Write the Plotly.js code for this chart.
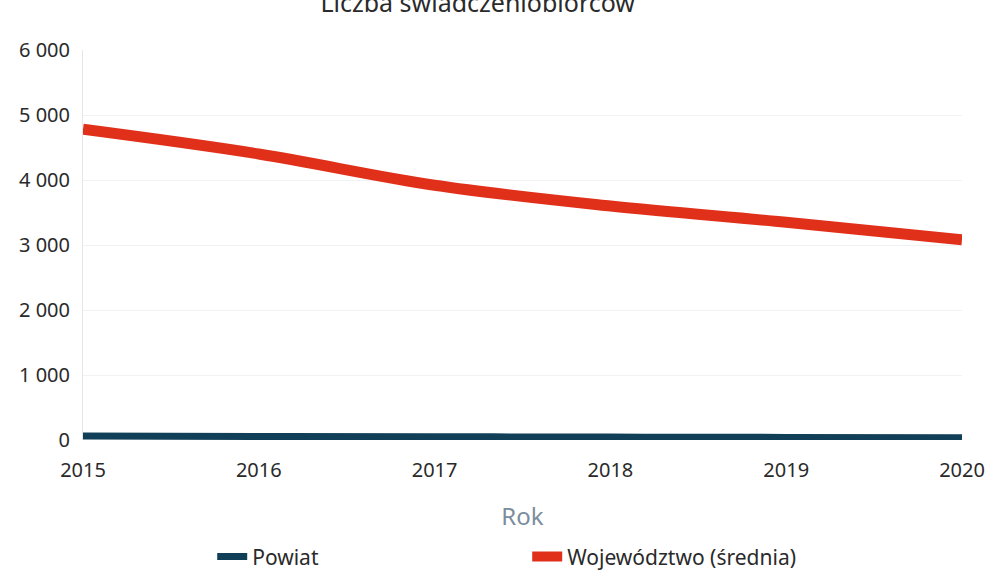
<!DOCTYPE html>
<html>
<head>
<meta charset="utf-8">
<script src="https://cdn.plot.ly/plotly-3.0.1.min.js"></script>
<style>html,body{margin:0;padding:0;background:#fff;}#chart{width:987px;height:579px;}</style>
</head>
<body>
<div id="chart"></div>
<script>
const years = [2015, 2016, 2017, 2018, 2019, 2020];
const powiat = [60, 55, 50, 45, 40, 35];
const wojewodztwo = [4780, 4400, 3920, 3600, 3350, 3080];
const seriesNames = ['Powiat', 'Województwo (średnia)'];
const yTicks = [0, 1000, 2000, 3000, 4000, 5000, 6000];

const traces = [
  {x: years, y: powiat, name: seriesNames[0], type: 'scatter', mode: 'lines',
   line: {color: '#123f58', width: 7, shape: 'spline'}},
  {x: years, y: wojewodztwo, name: seriesNames[1], type: 'scatter', mode: 'lines',
   line: {color: '#e0301a', width: 11, shape: 'spline'}}
];

const layout = {
  width: 987, height: 579,
  margin: {l: 83, r: 25, t: 50, b: 139},
  paper_bgcolor: '#ffffff', plot_bgcolor: '#ffffff',
  separators: ', ',
  font: {family: 'Noto Sans, Open Sans, sans-serif', color: '#2a2a2a', size: 20},
  title: {text: 'Liczba świadczeniobiorców', xref: 'container', x: 0.484, xanchor: 'center',
          yref: 'container', y: 0.995, yanchor: 'middle', font: {size: 25, color: '#2a2a2a'}},
  xaxis: {
    range: [2015, 2020], tickvals: years, ticktext: years.map(String),
    showgrid: false, zeroline: false, showline: false, ticks: '',
    ticklabelstandoff: 16,
    tickfont: {size: 20, color: '#2a2a2a'},
    title: {text: 'Rok', font: {size: 24, color: '#7b8d9c'}, standoff: 26}
  },
  yaxis: {
    range: [0, 6000], tickvals: yTicks, tickformat: ',d',
    showgrid: true, gridcolor: '#f1f2f4', zeroline: false,
    showline: true, linecolor: '#e4e6ea', linewidth: 1,
    ticks: '', ticklabelstandoff: 8,
    tickfont: {size: 20, color: '#2a2a2a'}
  },
  showlegend: true,
  legend: {orientation: 'h', xref: 'container', x: 0.215, xanchor: 'left',
           yref: 'container', y: 0.003, yanchor: 'bottom',
           entrywidth: 270, font: {size: 21, color: '#2a2a2a'}, itemwidth: 30},
};

Plotly.newPlot('chart', traces, layout, {displayModeBar: false, staticPlot: true});
</script>
</body>
</html>
